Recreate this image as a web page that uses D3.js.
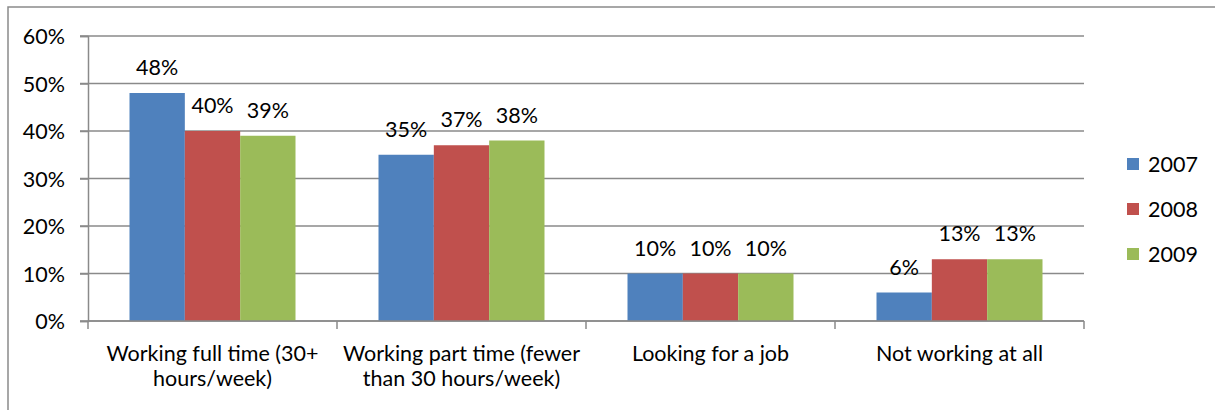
<!DOCTYPE html>
<html>
<head>
<meta charset="utf-8">
<script src="https://cdn.jsdelivr.net/npm/d3@7"></script>
<style>
  body { margin: 0; background: #fff; }
  svg text { font-family: Lato, "Open Sans", sans-serif; fill: #000; }
</style>
</head>
<body>
<svg id="chart" width="1215" height="410"></svg>
<script>
// chart data
const categories = ["Working full time (30+ hours/week)", "Working part time (fewer than 30 hours/week)", "Looking for a job", "Not working at all"];
const years = ["2007", "2008", "2009"];
const v2007 = [48, 35, 10, 6];
const v2008 = [40, 37, 10, 13];
const v2009 = [39, 38, 10, 13];
const yTicks = [0, 10, 20, 30, 40, 50, 60];
const colors = ["#4F81BD", "#C0504D", "#9BBB59"];

const series = [v2007, v2008, v2009];
const svg = d3.select("#chart");
const fs = 21.5;

const plot = { left: 88, right: 1084, top: 36, bottom: 321 };

// outer frame
svg.append("rect")
    .attr("x", 8).attr("y", 7)
    .attr("width", 1230).attr("height", 420)
    .attr("fill", "none")
    .attr("stroke", "#8a8a8a")
    .attr("stroke-width", 1.5);

const x0 = d3.scaleBand()
    .domain(categories)
    .range([plot.left, plot.right]);

// Excel-style gap width 150%
const barW = x0.bandwidth() / (years.length + 1.5);
const x1 = d3.scaleBand()
    .domain(years)
    .range([barW * 0.75, barW * 0.75 + barW * years.length]);

const y = d3.scaleLinear()
    .domain([0, 60])
    .range([plot.bottom, plot.top]);

// gridlines
svg.append("g")
    .selectAll("line")
    .data(yTicks)
    .enter().append("line")
    .attr("x1", plot.left - 8)
    .attr("x2", plot.right)
    .attr("y1", (d) => y(d))
    .attr("y2", (d) => y(d))
    .attr("stroke", "#8a8a8a")
    .attr("stroke-width", 1.5);

// y axis
const yAxis = svg.append("g")
    .attr("transform", "translate(" + plot.left + ",0)")
    .call(d3.axisLeft(y).tickValues(yTicks).tickSize(8).tickFormat((d) => d + "%"));
yAxis.select(".domain").attr("stroke", "#8a8a8a").attr("stroke-width", 1.5);
yAxis.selectAll(".tick line").attr("stroke", "#8a8a8a").attr("stroke-width", 1.5);
yAxis.selectAll(".tick text")
    .attr("font-size", fs)
    .attr("x", -23)
    .attr("dy", "0.36em");

// bars
const groups = svg.append("g")
    .selectAll("g")
    .data(categories)
    .enter().append("g")
    .attr("transform", (d) => "translate(" + x0(d) + ",0)");

groups.selectAll("rect")
    .data((d, i) => years.map((yr, j) => ({ year: yr, value: series[j][i], j: j })))
    .enter().append("rect")
    .attr("x", (d) => x1(d.year))
    .attr("width", x1.bandwidth())
    .attr("y", (d) => y(d.value))
    .attr("height", (d) => y(0) - y(d.value))
    .attr("fill", (d) => colors[d.j]);

groups.selectAll("text.lbl")
    .data((d, i) => years.map((yr, j) => ({ year: yr, value: series[j][i] })))
    .enter().append("text")
    .attr("class", "lbl")
    .attr("x", (d) => x1(d.year) + x1.bandwidth() / 2)
    .attr("y", (d) => y(d.value) - 18)
    .attr("text-anchor", "middle")
    .attr("font-size", fs)
    .text((d) => d.value + "%");

// x axis
const xAxis = svg.append("g")
    .attr("transform", "translate(0," + plot.bottom + ")");
xAxis.append("line")
    .attr("x1", plot.left).attr("x2", plot.right)
    .attr("stroke", "#8a8a8a").attr("stroke-width", 1.5);
xAxis.selectAll("line.tk")
    .data(d3.range(categories.length + 1))
    .enter().append("line")
    .attr("class", "tk")
    .attr("x1", (d) => plot.left + d * x0.bandwidth())
    .attr("x2", (d) => plot.left + d * x0.bandwidth())
    .attr("y1", 0).attr("y2", 8)
    .attr("stroke", "#8a8a8a").attr("stroke-width", 1.5);

const catLabels = xAxis.selectAll("text.cat")
    .data(categories)
    .enter().append("text")
    .attr("class", "cat")
    .attr("text-anchor", "middle")
    .attr("font-size", fs)
    .attr("x", (d) => x0(d) + x0.bandwidth() / 2)
    .attr("y", 40);

catLabels.each(function(d) {
    wrap(d3.select(this), d, x0.bandwidth() - 4);
});

function wrap(text, str, maxW) {
    const words = str.split(" ");
    const cx = text.attr("x");
    let line = [];
    let tspan = text.append("tspan").attr("x", cx).attr("dy", 0);
    words.forEach(function(w) {
        line.push(w);
        tspan.text(line.join(" "));
        if (tspan.node().getComputedTextLength() > maxW && line.length > 1) {
            line.pop();
            tspan.text(line.join(" "));
            line = [w];
            tspan = text.append("tspan").attr("x", cx).attr("dy", 24.5).text(w);
        }
    });
}

// legend
const legend = svg.append("g")
    .selectAll("g")
    .data(years)
    .enter().append("g")
    .attr("transform", (d, i) => "translate(1127," + (164 + i * 45) + ")");
legend.append("rect")
    .attr("x", 0).attr("y", -6)
    .attr("width", 12).attr("height", 12)
    .attr("fill", (d, i) => colors[i]);
legend.append("text")
    .attr("x", 21)
    .attr("dy", "0.36em")
    .attr("font-size", fs)
    .text((d) => d);
</script>
</body>
</html>
